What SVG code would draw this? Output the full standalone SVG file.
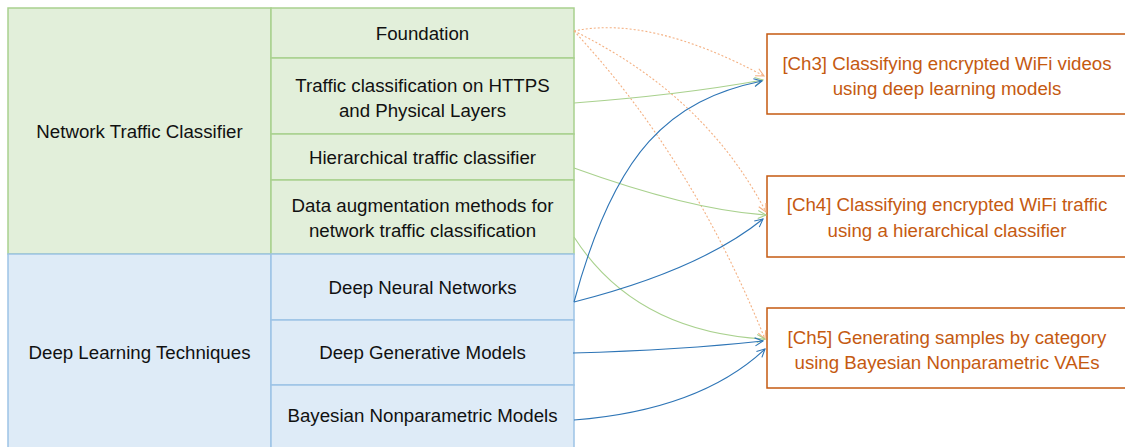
<svg xmlns="http://www.w3.org/2000/svg" width="1125" height="447" viewBox="0 0 1125 447">
  <defs>
    <style>
      .lbl { font-family: "Liberation Sans", Arial, sans-serif; font-size: 18.7px; fill: #111; text-anchor: middle; dominant-baseline: central; }
      .ch { font-family: "Liberation Sans", Arial, sans-serif; font-size: 18.7px; fill: #C55A11; text-anchor: middle; dominant-baseline: central; }
      .g { fill: #E2EFDA; stroke: #A9D18E; stroke-width: 1.5; }
      .b { fill: #DEEBF7; stroke: #9DC3E6; stroke-width: 1.5; }
      .o { fill: #FFFFFF; stroke: #C55A11; stroke-width: 1.5; }
      .c { fill: none; stroke-width: 1.1; }
      .cg { stroke: #A9D18E; }
      .cb { stroke: #2E75B6; }
      .co { stroke: #F4B183; stroke-dasharray: 2 2; }
    </style>
    <marker id="ag" viewBox="0 0 10 10" refX="9" refY="5" markerWidth="10" markerHeight="10" markerUnits="userSpaceOnUse" orient="auto">
      <polyline points="1,1 9,5 1,9" fill="none" stroke="#A9D18E" stroke-width="1.1"/>
    </marker>
    <marker id="ab" viewBox="0 0 10 10" refX="9" refY="5" markerWidth="10" markerHeight="10" markerUnits="userSpaceOnUse" orient="auto">
      <polyline points="1,1 9,5 1,9" fill="none" stroke="#2E75B6" stroke-width="1.1"/>
    </marker>
    <marker id="ao" viewBox="0 0 10 10" refX="9" refY="5" markerWidth="10" markerHeight="10" markerUnits="userSpaceOnUse" orient="auto">
      <polyline points="1,1 9,5 1,9" fill="none" stroke="#F4B183" stroke-width="1.1"/>
    </marker>
  </defs>

  <!-- Left groups -->
  <g id="network-traffic-classifier">
    <rect class="g" x="8" y="8" width="263" height="246"/>
    <text class="lbl" x="139.5" y="131">Network Traffic Classifier</text>
  </g>
  <g id="deep-learning-techniques">
    <rect class="b" x="8" y="254" width="263" height="200"/>
    <text class="lbl" x="139.5" y="352">Deep Learning Techniques</text>
  </g>

  <!-- Middle column: topics -->
  <g id="foundation">
    <rect class="g" x="271" y="8" width="303" height="50"/>
    <text class="lbl" x="422.5" y="33">Foundation</text>
  </g>
  <g id="traffic-classification">
    <rect class="g" x="271" y="58" width="303" height="76"/>
    <text class="lbl" x="422.5" y="85">Traffic classification on HTTPS</text>
    <text class="lbl" x="422.5" y="110">and Physical Layers</text>
  </g>
  <g id="hierarchical-classifier">
    <rect class="g" x="271" y="134" width="303" height="46"/>
    <text class="lbl" x="422.5" y="157">Hierarchical traffic classifier</text>
  </g>
  <g id="data-augmentation">
    <rect class="g" x="271" y="180" width="303" height="74"/>
    <text class="lbl" x="422.5" y="205">Data augmentation methods for</text>
    <text class="lbl" x="422.5" y="230">network traffic classification</text>
  </g>
  <g id="deep-neural-networks">
    <rect class="b" x="271" y="254" width="303" height="66"/>
    <text class="lbl" x="422.5" y="287">Deep Neural Networks</text>
  </g>
  <g id="deep-generative-models">
    <rect class="b" x="271" y="320" width="303" height="65"/>
    <text class="lbl" x="422.5" y="352">Deep Generative Models</text>
  </g>
  <g id="bayesian-nonparametric">
    <rect class="b" x="271" y="385" width="303" height="70"/>
    <text class="lbl" x="422.5" y="415">Bayesian Nonparametric Models</text>
  </g>

  <!-- Right column: chapters -->
  <g id="ch3">
    <rect class="o" x="767" y="34" width="370" height="80"/>
    <text class="ch" x="947" y="63">[Ch3] Classifying encrypted WiFi videos</text>
    <text class="ch" x="947" y="88">using deep learning models</text>
  </g>
  <g id="ch4">
    <rect class="o" x="767" y="176" width="370" height="81"/>
    <text class="ch" x="947" y="204">[Ch4] Classifying encrypted WiFi traffic</text>
    <text class="ch" x="947" y="230">using a hierarchical classifier</text>
  </g>
  <g id="ch5">
    <rect class="o" x="767" y="308" width="370" height="80"/>
    <text class="ch" x="947" y="337">[Ch5] Generating samples by category</text>
    <text class="ch" x="947" y="362">using Bayesian Nonparametric VAEs</text>
  </g>

  <!-- Connectors -->
  <g id="connectors">
    <path class="c co" d="M574,31 Q650,15 764,76" marker-end="url(#ao)"/>
    <path class="c co" d="M574,31 Q705,95 766,212" marker-end="url(#ao)"/>
    <path class="c co" d="M574,31 Q692,158 765,339" marker-end="url(#ao)"/>
    <path class="c cg" d="M574,103 Q680,95 763,80" marker-end="url(#ag)"/>
    <path class="c cg" d="M574,168 Q690,210 766,215" marker-end="url(#ag)"/>
    <path class="c cg" d="M574,237 Q635,332 765,339" marker-end="url(#ag)"/>
    <path class="c cb" d="M574,302 C615,150 670,100 762,81" marker-end="url(#ab)"/>
    <path class="c cb" d="M574,302 Q700,270 763,219" marker-end="url(#ab)"/>
    <path class="c cb" d="M573,353 Q680,350 763,341" marker-end="url(#ab)"/>
    <path class="c cb" d="M574,420 Q700,410 765,349" marker-end="url(#ab)"/>
  </g>
</svg>
